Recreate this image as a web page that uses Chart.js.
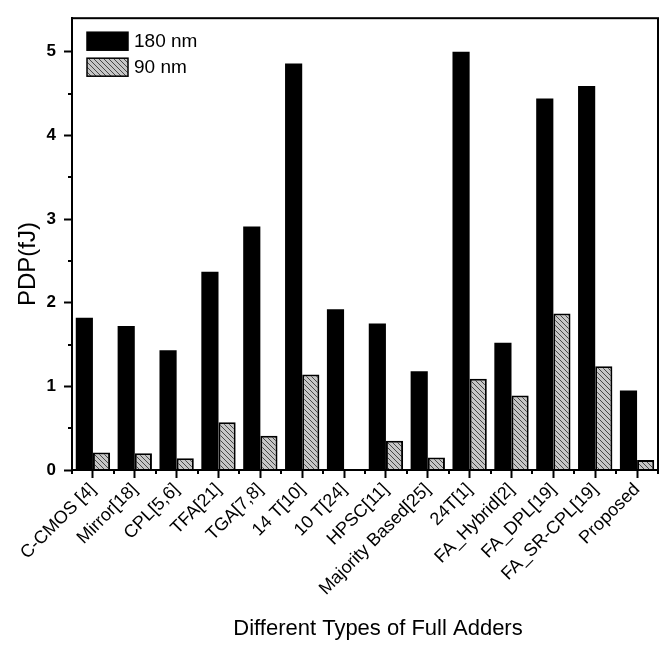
<!DOCTYPE html>
<html><head><meta charset="utf-8">
<script src="https://cdn.jsdelivr.net/npm/chart.js@4.4.0/dist/chart.umd.min.js"></script>
<style>html,body{margin:0;padding:0;background:#fff;} #wrap{width:664px;height:645px;}</style>
</head><body><div id="wrap"><canvas id="c" width="664" height="645"></canvas></div>
<script>
const categories = ['C-CMOS [4]','Mirror[18]','CPL[5,6]','TFA[21]','TGA[7,8]','14 T[10]','10 T[24]','HPSC[11]','Majority Based[25]','24T[1]','FA_Hybrid[2]','FA_DPL[19]','FA_SR-CPL[19]','Proposed'];
const series180 = [1.82,1.72,1.43,2.37,2.91,4.86,1.92,1.75,1.18,5.00,1.52,4.44,4.59,0.95];
const series90 = [0.21,0.20,0.14,0.57,0.41,1.14,0,0.35,0.15,1.09,0.89,1.87,1.24,0.12];
const seriesNames = ['180 nm','90 nm'];
const yTickValues = [0,1,2,3,4,5];
const yMinorValues = [0.5,1.5,2.5,3.5,4.5];
const xTitle = 'Different Types of Full Adders';
const yTitle = 'PDP(fJ)';

const FONT = '"Liberation Sans", Arial, Helvetica, sans-serif';
Chart.defaults.font.family = FONT;
Chart.defaults.color = '#000';

function makeHatch() {
  const s = 5;
  const c = document.createElement('canvas'); c.width = s; c.height = s;
  const g = c.getContext('2d');
  g.fillStyle = '#c6c6c6'; g.fillRect(0, 0, s, s);
  g.strokeStyle = '#474747'; g.lineWidth = 1;
  g.beginPath();
  for (const k of [-s, 0, s]) { g.moveTo(k, 0); g.lineTo(k + s, s); }
  g.stroke();
  return g.createPattern(c, 'repeat');
}
const hatch = makeHatch();

const extras = {
  id: 'extras',
  afterDraw(chart) {
    const {ctx, chartArea: a, scales: {x, y}} = chart;
    ctx.save();
    ctx.strokeStyle = '#000';
    ctx.lineWidth = 2;
    ctx.strokeRect(a.left, a.top, a.right - a.left, a.bottom - a.top);
    ctx.beginPath();
    yMinorValues.forEach(v => {
      const py = Math.round(y.getPixelForValue(v));
      ctx.moveTo(a.left, py); ctx.lineTo(a.left - 4, py);
    });
    for (let i = 0; i <= categories.length; i++) {
      const px = Math.round(x.getPixelForValue(i - 0.5));
      ctx.moveTo(px, a.bottom); ctx.lineTo(px, a.bottom + 4);
    }
    ctx.stroke();

    // legend
    const ds = chart.data.datasets;
    ctx.font = '19px ' + FONT;
    ctx.textAlign = 'left'; ctx.textBaseline = 'middle';
    ds.forEach((d, i) => {
      const bx = a.left + 15, by = a.top + 14 + i * 26, bw = 41, bh = 18;
      ctx.fillStyle = d.backgroundColor;
      ctx.fillRect(bx, by, bw, bh);
      ctx.lineWidth = 1.5; ctx.strokeStyle = '#000';
      ctx.strokeRect(bx, by, bw, bh);
      ctx.fillStyle = '#000';
      ctx.fillText(d.label, bx + bw + 6, by + bh / 2 + 1);
    });

    // axis titles
    ctx.fillStyle = '#000';
    ctx.textAlign = 'center'; ctx.textBaseline = 'middle';
    ctx.font = '22px ' + FONT;
    ctx.fillText(xTitle, (a.left + a.right) / 2 + 13, 629);
    ctx.save();
    ctx.translate(28, (a.top + a.bottom) / 2 + 20);
    ctx.rotate(-Math.PI / 2);
    ctx.font = '24px ' + FONT;
    ctx.fillText(yTitle, 0, 0);
    ctx.restore();
    ctx.restore();
  }
};

new Chart(document.getElementById('c'), {
  type: 'bar',
  data: {
    labels: categories,
    datasets: [
      {label: seriesNames[0], data: series180, backgroundColor: '#000', borderColor: '#000', borderWidth: 0,
       categoryPercentage: 0.82, barPercentage: 1},
      {label: seriesNames[1], data: series90, backgroundColor: hatch, borderColor: '#000', borderWidth: 2,
       categoryPercentage: 0.82, barPercentage: 1}
    ]
  },
  plugins: [extras],
  options: {
    responsive: false, animation: false, devicePixelRatio: 1,
    layout: {padding: {top: 9, right: 6, left: 0, bottom: 0}},
    plugins: {legend: {display: false}, tooltip: {enabled: false}},
    scales: {
      x: {
        type: 'category', offset: true,
        grid: {display: true, drawOnChartArea: false, drawTicks: true, tickLength: 8, tickWidth: 2, tickColor: '#000', offset: false},
        border: {display: true, color: '#000', width: 2},
        ticks: {autoSkip: false, maxRotation: 45, minRotation: 45, font: {size: 18}, color: '#000', padding: 1},
        afterFit(s) { s.height = 175; }
      },
      y: {
        min: 0, max: 5.4,
        grid: {display: true, drawOnChartArea: false, drawTicks: true, tickLength: 8, tickWidth: 2, tickColor: '#000'},
        border: {display: true, color: '#000', width: 2},
        ticks: {font: {size: 17, weight: 'bold'}, color: '#000', padding: 8},
        afterBuildTicks(s) { s.ticks = yTickValues.map(v => ({value: v})); },
        afterFit(s) { s.width = 72; }
      }
    }
  }
});
</script>
</body></html>
